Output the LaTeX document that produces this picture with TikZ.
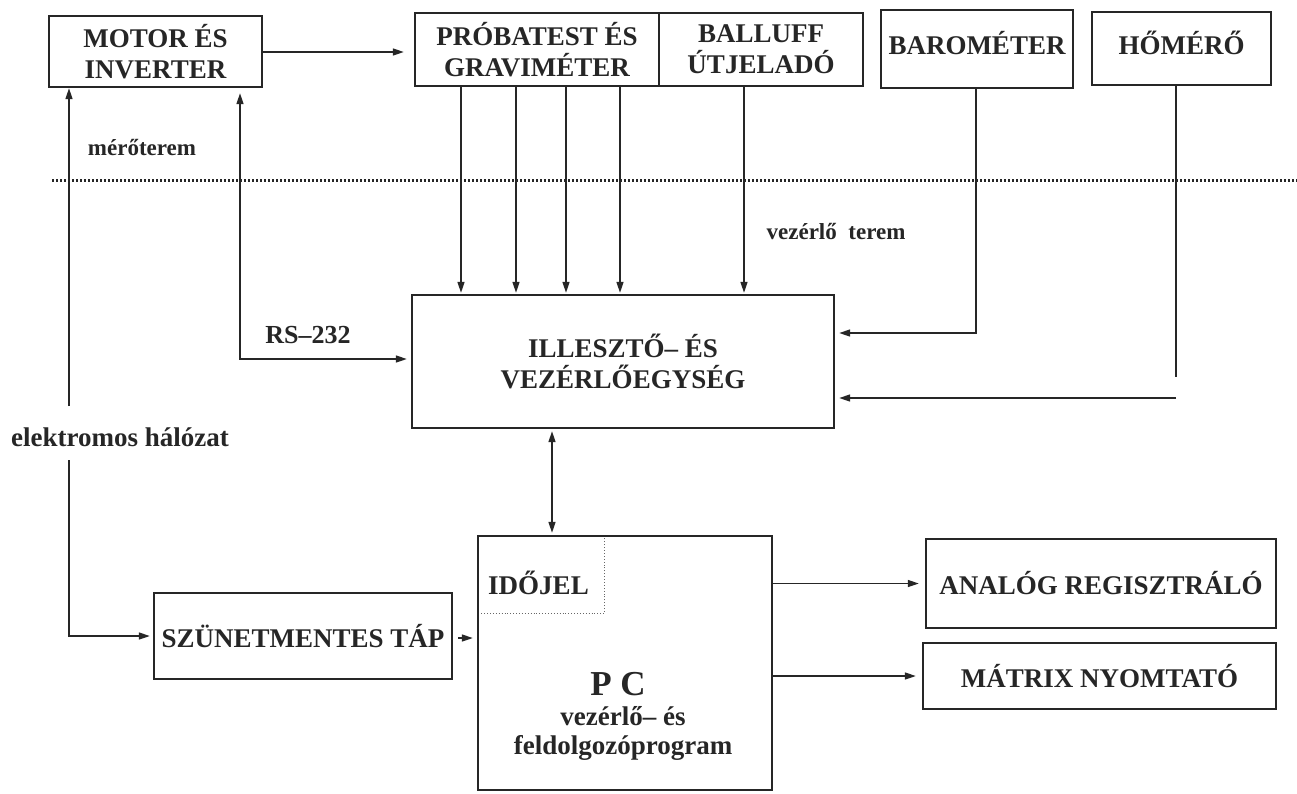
\documentclass[tikz,border=0pt]{standalone}
\usepackage{fontspec}
\setmainfont{Liberation Serif}
\usetikzlibrary{arrows.meta}
\definecolor{ink}{RGB}{38,38,38}
\begin{document}
\begin{tikzpicture}[x=1pt,y=-1pt,
  box/.style={draw=ink,line width=2.4pt,inner sep=0pt,align=center,text=ink,font=\bfseries\fontsize{27}{31}\selectfont},
  txt/.style={inner sep=0pt,align=center,text=ink,font=\bfseries\fontsize{27}{31}\selectfont},
  lbl/.style={inner sep=0pt,text=ink,font=\bfseries\fontsize{23}{27}\selectfont},
  conn/.style={draw=ink,line width=1.4pt,-{Triangle[length=11pt,width=7pt]}},
  bconn/.style={draw=ink,line width=1.4pt,{Triangle[length=11pt,width=7pt]}-{Triangle[length=11pt,width=7pt]}},
  wire/.style={draw=ink,line width=1.4pt}]
\useasboundingbox[fill=white] (0,0) rectangle (1297,793);

% boxes
\node[box,minimum width=213pt,minimum height=71pt] (motor) at (155.5,51.5) {MOTOR ÉS\\INVERTER};
\node[box,minimum width=244pt,minimum height=73pt] (probatest) at (537,49.5) {PRÓBATEST ÉS\\GRAVIMÉTER};
\node[box,minimum width=204pt,minimum height=73pt] (balluff) at (761,49.5) {BALLUFF\\ÚTJELADÓ};
\node[box,minimum width=192pt,minimum height=78pt] (baro) at (977,49) {};
\node[txt] (barotext) at (977,43) {BAROMÉTER};
\node[box,minimum width=179pt,minimum height=73pt] (homero) at (1181.5,48.5) {};
\node[txt] (homerotext) at (1181.5,43) {HŐMÉRŐ};
\node[box,minimum width=422pt,minimum height=133pt] (illeszto) at (623,361.5) {ILLESZTŐ– ÉS\\VEZÉRLŐEGYSÉG};
\node[draw=ink!70,dotted,line width=0.9pt,minimum width=126pt,minimum height=77pt,inner sep=0pt,anchor=north west] (idojel) at (478,536) {};
\node[box,minimum width=294pt,minimum height=254pt] (pc) at (625,663) {};
\node[txt] (idojeltext) at (538.5,583) {IDŐJEL};
\node[txt,font=\bfseries\fontsize{35}{31}\selectfont] (pc1) at (618,684) {P C};
\node[txt] (pc2) at (623,716) {vezérlő– és};
\node[txt] (pc3) at (623,748) {feldolgozóprogram};
\node[box,minimum width=298pt,minimum height=86pt] (szun) at (303,636) {SZÜNETMENTES TÁP};
\node[box,minimum width=350pt,minimum height=89pt] (analog) at (1101,583.5) {ANALÓG REGISZTRÁLÓ};
\node[box,minimum width=353pt,minimum height=66pt] (matrix) at (1099.5,676) {MÁTRIX NYOMTATÓ};

% labels
\node[lbl] (meroterem) at (142,147) {mérőterem};
\node[lbl] (vezterem) at (836,231) {vezérlő\ \ terem};
\node[lbl,font=\bfseries\fontsize{26}{30}\selectfont] (rs) at (308,335) {RS–232};
\node[lbl,font=\bfseries\fontsize{27}{30}\selectfont] (halozat) at (120,437) {elektromos hálózat};

% room separator
\draw[ink,line width=3pt,dash pattern=on 2.4pt off 1.6pt] (52,180) -- (1297,180);

% coordinates
\coordinate (xa) at (69,0);
\coordinate (xb) at (240,0);
\coordinate (p1) at (461,0);
\coordinate (p2) at (516,0);
\coordinate (p3) at (566,0);
\coordinate (p4) at (620,0);
\coordinate (p5) at (744,0);
\coordinate (xbaro) at (976,0);
\coordinate (xhom) at (1176,0);
\coordinate (xpc) at (552,0);
\coordinate (elup) at (69,406);
\coordinate (eldown) at (69,460);
\coordinate (homend) at (1176,377);
\coordinate (homstart) at (1176,398);

% connectors
\draw[conn,shorten >=10pt] (motor.east |- 0,52) -- (probatest.west |- 0,52);
\draw[conn] (elup) -- (xa |- motor.south);
\draw[conn,shorten >=3pt] (eldown) |- (szun.west);
\draw[bconn,shorten <=5pt,shorten >=4pt] (xb |- motor.south) |- (illeszto.west |- 0,359);
\foreach \c in {p1,p2,p3,p4}{\draw[conn,shorten >=1pt] (\c |- probatest.south) -- (\c |- illeszto.north);}
\draw[conn,shorten >=1pt] (p5 |- balluff.south) -- (p5 |- illeszto.north);
\draw[conn,shorten >=4pt] (xbaro |- baro.south) |- (illeszto.east |- 0,333);
\draw[wire] (xhom |- homero.south) -- (homend);
\draw[conn,shorten >=4pt] (homstart) -- (illeszto.east |- homstart);
\draw[bconn,shorten <=2pt,shorten >=2pt] (xpc |- illeszto.south) -- (xpc |- pc.north);
\draw[conn,shorten <=5pt,shorten >=4pt] (szun.east |- 0,638) -- (pc.west |- 0,638);
\draw[conn,shorten >=6pt] (pc.east |- analog.west) -- (analog.west);
\draw[conn,shorten >=6pt] (pc.east |- matrix.west) -- (matrix.west);
\end{tikzpicture}
\end{document}
